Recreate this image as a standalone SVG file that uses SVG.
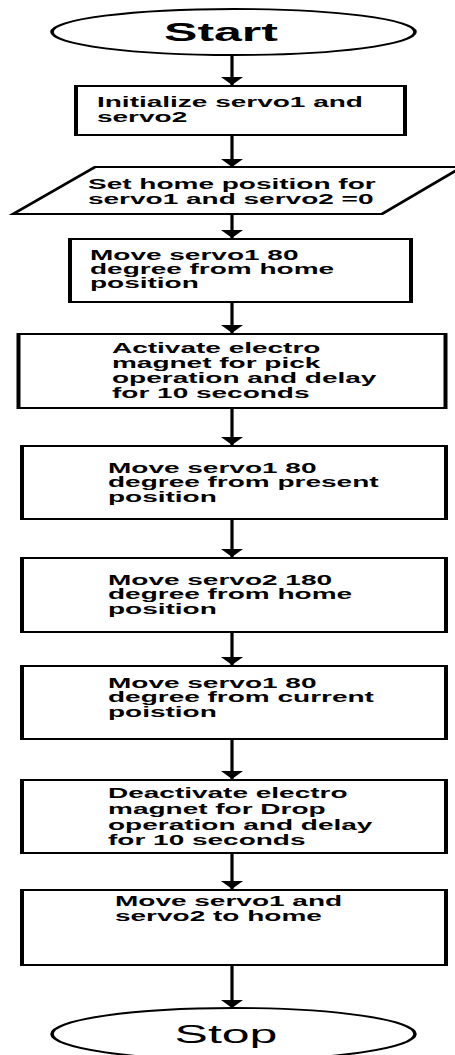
<svg xmlns="http://www.w3.org/2000/svg" width="455" height="1055" viewBox="0 0 455 1055">
<style>
.shape{fill:#fff;stroke:#000;stroke-width:2}
.term{fill:#fff;stroke:#000;stroke-width:1.8}
.lbl{font-family:"Liberation Sans",Arial,sans-serif;font-size:14px;font-weight:bold;fill:#000}
.big{font-family:"Liberation Sans",Arial,sans-serif;font-size:25px;fill:#000;text-anchor:middle}
.conn{stroke:#000;stroke-width:1.6;fill:none;marker-end:url(#ah)}
</style>
<defs>
<marker id="ah" viewBox="0 0 8 11" refX="8" refY="5.5" markerWidth="8" markerHeight="11" markerUnits="userSpaceOnUse" orient="auto">
<path d="M0,0 L8,5.5 L0,11 z" fill="#000"/>
</marker>
</defs>
<rect width="455" height="1055" fill="#fff"/>
<g transform="scale(2,1)">
<g id="connectors">
<line class="conn" x1="116" y1="55" x2="116" y2="85"/>
<line class="conn" x1="116" y1="136" x2="116" y2="167"/>
<line class="conn" x1="116" y1="214" x2="116" y2="238"/>
<line class="conn" x1="116" y1="303" x2="116" y2="333"/>
<line class="conn" x1="116" y1="409" x2="116" y2="445"/>
<line class="conn" x1="116" y1="520" x2="116" y2="557"/>
<line class="conn" x1="116" y1="633" x2="116" y2="665"/>
<line class="conn" x1="116" y1="740" x2="116" y2="779"/>
<line class="conn" x1="116" y1="854" x2="116" y2="889"/>
<line class="conn" x1="116" y1="966" x2="116" y2="1008"/>
</g>
<g id="start">
<ellipse class="term" cx="116.75" cy="32" rx="90.75" ry="23"/>
<text class="big" x="110.5" y="41" font-weight="bold">Start</text>
</g>
<g id="init">
<rect class="shape" x="38" y="86" width="164.5" height="49"/>
<text class="lbl" x="48.5" y="107">Initialize servo1 and<tspan x="48.5" y="122">servo2</tspan></text>
</g>
<g id="sethome">
<polygon class="shape" points="47.5,167 231,167 191,214 6.5,214"/>
<text class="lbl" x="44" y="189.5">Set home position for<tspan x="44" y="204">servo1 and servo2 =0</tspan></text>
</g>
<g id="move1">
<rect class="shape" x="35" y="239" width="170.5" height="63"/>
<text class="lbl" x="45" y="260">Move servo1 80<tspan x="45" y="274">degree from home</tspan><tspan x="45" y="288">position</tspan></text>
</g>
<g id="activate">
<rect class="shape" x="9.25" y="334" width="213.5" height="74"/>
<text class="lbl" x="56" y="353">Activate electro<tspan x="56" y="368">magnet for pick</tspan><tspan x="56" y="383">operation and delay</tspan><tspan x="56" y="398">for 10 seconds</tspan></text>
</g>
<g id="move2">
<rect class="shape" x="11" y="446" width="212" height="73"/>
<text class="lbl" x="54" y="473">Move servo1 80<tspan x="54" y="487">degree from present</tspan><tspan x="54" y="502">position</tspan></text>
</g>
<g id="move3">
<rect class="shape" x="11" y="558" width="212" height="74"/>
<text class="lbl" x="54" y="585">Move servo2 180<tspan x="54" y="599">degree from home</tspan><tspan x="54" y="614">position</tspan></text>
</g>
<g id="move4">
<rect class="shape" x="11" y="666" width="212" height="73"/>
<text class="lbl" x="54" y="688">Move servo1 80<tspan x="54" y="702">degree from current</tspan><tspan x="54" y="717">poistion</tspan></text>
</g>
<g id="deactivate">
<rect class="shape" x="11" y="780" width="212" height="73"/>
<text class="lbl" x="54" y="798">Deactivate electro<tspan x="54" y="814">magnet for Drop</tspan><tspan x="54" y="830">operation and delay</tspan><tspan x="54" y="845">for 10 seconds</tspan></text>
</g>
<g id="home">
<rect class="shape" x="11" y="890" width="212" height="75"/>
<text class="lbl" x="57.5" y="906">Move servo1 and<tspan x="57.5" y="921">servo2 to home</tspan></text>
</g>
<g id="stop">
<ellipse class="term" cx="116.75" cy="1034" rx="90.75" ry="26"/>
<text class="big" x="113" y="1043">Stop</text>
</g>
</g>
</svg>
